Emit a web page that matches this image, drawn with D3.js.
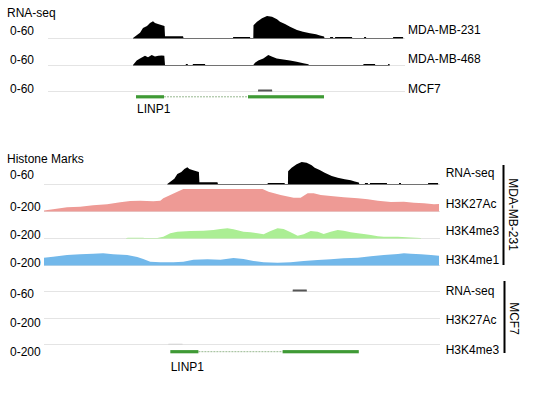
<!DOCTYPE html>
<html><head><meta charset="utf-8">
<script src="https://cdn.jsdelivr.net/npm/d3@7"></script>
<style>
html,body{margin:0;padding:0;background:#fff;}
svg text{font-family:"Liberation Sans",Arial,Helvetica,sans-serif;font-size:12px;fill:#000;}
</style></head>
<body><svg id="c" width="540" height="400"></svg>
<script>
// ---- data (locus position units, signal values) ----
const rna231 = [[85,0],[89,8],[92,14],[95,27],[99,33],[102,41],[105,46],[107,41],[110,38],[114,35],[116.5,33],[117,5],[135,5],[135.5,0],
  [185,0],[185.2,3],[202,3],[202.2,0],
  [205.3,0],[205.5,35],[209,44],[214,54],[219,60],[224,58],[229,51],[232,44],[237,38],[242,31],[249,22],[255,17],[262,13],[268,10],[272,7],[276,4],[276.5,0],
  [282,0],[282.2,3],[285,3],[285.2,0],[287,0],[287.2,3],[304,3],[304.2,0],
  [316,0],[316.2,3],[318,3],[318.2,0],[345,0],[345.2,3],[355,3],[355.2,0]];
const rna468 = [[85,0],[88.7,12],[92,18],[97,25],[100,21],[103.7,27],[107,23],[110.3,25],[113.7,26],[116.3,25],[117,0],
  [137.7,0],[137.9,3],[139.7,3],[139.9,0],[144.7,0],[144.9,3],[157,3],[157.2,0],
  [205.3,0],[207,6],[210.3,12],[215.3,18],[220.3,27],[223.7,23],[228.7,18],[235.3,15],[242,12],[248.7,9],[255.3,5],[260.3,2],[261,0],
  [315.3,0],[315.5,3],[327,3],[327.2,0],[340,0],[340.2,3],[341.5,3],[341.7,0]];
const rnaMCF7 = [[210,0],[210.2,4],[224,4],[224.2,0]];
const k27ac231 = [[-38,5],[-29,15],[-15,34],[-2,39],[11,52],[25,61],[38,79],[48,91],[58,94],[71,88],[78,94],[81,115],[88,145],[95,175],[101,200],
  [180,200],[186,175],[198,145],[211,121],[218,121],[225,161],[231,161],[238,145],[248,136],[261,125],[275,115],[285,106],[295,94],[308,82],[321,85],[331,75],[341,70],[351,61],[356,64]];
const k4me3_231 = [[44,0],[46,2],[61,2],[62,0],[75,0],[81,12],[88,43],[95,57],[108,64],[121,66],[131,73],[138,82],[145,88],[151,79],[161,57],[168,52],[175,43],[181,34],
  [188,64],[195,88],[201,82],[208,52],[215,21],[221,34],[228,64],[235,57],[241,36],[248,57],[255,73],[261,66],[268,52],[275,43],[281,36],[288,27],[295,15],[301,12],[315,12],[328,5],[338,0]];
const k4me1_231 = [[-38,66],[-29,75],[-15,91],[-2,97],[11,103],[21,106],[31,97],[45,91],[55,73],[61,55],[68,30],[78,25],[91,25],[101,30],[111,48],[125,52],[138,48],[151,64],
  [161,55],[171,36],[181,25],[195,21],[208,25],[221,36],[235,45],[248,52],[261,61],[275,66],[288,79],[301,91],[315,100],[321,106],[328,103],[338,97],[348,91],[356,85]];
const k27acMCF7 = [];
const k4me3MCF7 = [[86,0],[86.2,2],[100,2],[100.2,0]];
const exons = [[88,116],[200,276]];
const introns = [[116,200]];
const geneName = "LINP1";

const topTracks = [
  {name:"MDA-MB-231", range:"0-60", max:60, data:rna231, color:"#000"},
  {name:"MDA-MB-468", range:"0-60", max:60, data:rna468, color:"#000"},
  {name:"MCF7", range:"0-60", max:60, data:rnaMCF7, color:"#555"}
];
const histTracks231 = [
  {name:"RNA-seq", range:"0-60", max:60, data:rna231, color:"#000"},
  {name:"H3K27Ac", range:"0-200", max:200, data:k27ac231, color:"#ee9a95"},
  {name:"H3K4me3", range:"0-200", max:200, data:k4me3_231, color:"#abee94"},
  {name:"H3K4me1", range:"0-200", max:200, data:k4me1_231, color:"#72b8ea"}
];
const histTracksMCF7 = [
  {name:"RNA-seq", range:"0-60", max:60, data:rnaMCF7, color:"#555"},
  {name:"H3K27Ac", range:"0-200", max:200, data:k27acMCF7, color:"#ee9a95"},
  {name:"H3K4me3", range:"0-200", max:200, data:k4me3MCF7, color:"#cccccc"}
];

// ---- drawing ----
const svg = d3.select("#c");
const trackH = 22;
const xTop = d3.scaleLinear().domain([0,356]).range([48,404]);
const xBot = d3.scaleLinear().domain([-38,356]).range([44,439]);

function drawTrack(t, x, base, leftY, rightX, rightY){
  const y = d3.scaleLinear().domain([0,t.max]).range([base, base-trackH]).clamp(true);
  svg.append("line").attr("x1",x.range()[0]).attr("x2",x.range()[1]+1)
    .attr("y1",base+0.5).attr("y2",base+0.5).attr("stroke","#e4e4e4").attr("stroke-width",1);
  if(t.data.length){
    const area = d3.area().x(d=>x(d[0])).y0(base+0.5).y1(d=>y(d[1]));
    svg.append("path").datum(t.data).attr("d",area).attr("fill",t.color);
  }
  svg.append("text").attr("x",10).attr("y",leftY).text(t.range);
  svg.append("text").attr("x",rightX).attr("y",rightY).text(t.name);
}
function drawGene(x, yc, labelX, labelY){
  introns.forEach(iv=>{
    svg.append("line").attr("x1",x(iv[0])).attr("x2",x(iv[1])).attr("y1",yc).attr("y2",yc)
      .attr("stroke","#98b890").attr("stroke-width",1).attr("stroke-dasharray","2,1");
  });
  exons.forEach(ex=>{
    svg.append("rect").attr("x",x(ex[0])).attr("width",x(ex[1])-x(ex[0]))
      .attr("y",yc-1.6).attr("height",3.2).attr("fill","#3f9a35");
  });
  svg.append("text").attr("x",labelX).attr("y",labelY).text(geneName);
}

// top panel
svg.append("text").attr("x",7).attr("y",17).text("RNA-seq");
const topBase=[38,65,91], topLeftY=[35,64,93], topRightY=[34,63,92.5];
topTracks.forEach((t,i)=>drawTrack(t,xTop,topBase[i],topLeftY[i],408,topRightY[i]));
drawGene(xTop,96.8,137,113);

// histone panel
svg.append("text").attr("x",7).attr("y",162.5).text("Histone Marks");
const b231=[184,211,238,265], l231=[179,210.5,239,267], r231=[177,207.5,235,264];
histTracks231.forEach((t,i)=>drawTrack(t,xBot,b231[i],l231[i],445.7,r231[i]));
const bM=[291,318,344], lM=[297.5,326.5,356], rM=[295,324,354];
histTracksMCF7.forEach((t,i)=>drawTrack(t,xBot,bM[i],lM[i],445.7,rM[i]));
drawGene(xBot,351.7,170.7,370.5);

// group brackets
svg.append("line").attr("x1",503.5).attr("x2",503.5).attr("y1",165).attr("y2",265).attr("stroke","#000").attr("stroke-width",2);
svg.append("text").attr("transform","translate(509,214.5) rotate(90)").attr("text-anchor","middle").text("MDA-MB-231");
svg.append("line").attr("x1",504.5).attr("x2",504.5).attr("y1",281).attr("y2",353).attr("stroke","#000").attr("stroke-width",2);
svg.append("text").attr("transform","translate(509.5,318.5) rotate(90)").attr("text-anchor","middle").text("MCF7");
</script></body></html>
